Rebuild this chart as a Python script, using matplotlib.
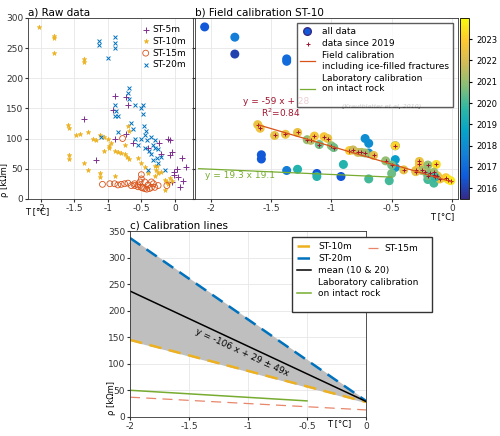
import numpy as np
import matplotlib.pyplot as plt
from matplotlib.colors import LinearSegmentedColormap

# ---- a) raw data ----
st5_T = [-1.35, -0.9, -0.73, -0.92, -0.7, -0.9, -0.73, -1.17, -0.63, -0.23, -0.1, -0.07, -0.04, -0.08, 0.1,
         -0.2, 0.03, 0.17, -0.02, -0.02, 0.05, 0.12, 0.07, -0.05, -0.4]
st5_R = [133, 170, 168, 147, 155, 100, 107, 65, 92, 93, 99, 98, 78, 72, 68,
         75, 50, 53, 45, 40, 37, 30, 20, 28, 85]
st10_T = [-2.02, -1.8, -1.8, -1.8, -1.35, -1.35, -1.6, -1.58, -1.58, -1.58, -1.47, -1.42, -1.3, -1.22, -1.17,
          -1.12, -1.05, -1.0, -0.98, -0.98, -1.05, -0.95, -1.35, -1.3, -1.12, -1.12, -0.9, -0.9, -0.85, -0.8,
          -0.75, -0.72, -0.68, -0.75, -0.7, -0.68, -0.55, -0.5, -0.45, -0.3, -0.27, -0.28, -0.25, -0.2, -0.15,
          -0.12, -0.1, -0.07, -0.05, -0.15, -0.4, -0.3]
st10_R = [285, 270, 267, 241, 231, 227, 123, 117, 73, 66, 105, 107, 110, 100, 97,
          105, 103, 100, 88, 85, 80, 92, 60, 47, 42, 36, 38, 80, 77, 76,
          74, 70, 66, 90, 120, 113, 68, 60, 53, 55, 55, 47, 42, 45, 32,
          28, 25, 35, 30, 15, 42, 38]
st15_T = [-1.08, -0.97, -0.9, -0.85, -0.8, -0.75, -0.7, -0.65, -0.6, -0.55, -0.5, -0.48, -0.45, -0.42, -0.38,
          -0.35, -0.3, -0.25, -0.5, -0.5, -0.52, -0.78, -0.6, -0.4, -0.45, -0.35, -0.32, -0.12, -0.55]
st15_R = [24, 25, 25, 23, 24, 25, 26, 22, 22, 20, 19, 18, 17, 16, 17,
          19, 19, 22, 40, 33, 28, 100, 25, 23, 28, 28, 25, 22, 23]
st20_T = [-1.13, -1.13, -0.9, -0.9, -0.9, -1.0, -0.68, -0.7, -0.68, -0.6, -0.9, -0.88, -0.9, -0.85, -0.65,
          -0.62, -0.5, -0.48, -0.47, -0.46, -0.43, -0.45, -0.5, -0.42, -0.35, -0.3, -0.33, -0.3, -0.25, -0.38,
          -0.32, -0.35, -0.27, -0.2, -0.25, -0.6, -0.55, -0.45, -0.85, -1.1, -0.4, -0.15]
st20_R = [262, 255, 268, 259, 250, 233, 184, 175, 165, 155, 155, 145, 137, 137, 125,
          115, 150, 155, 140, 120, 112, 105, 100, 98, 103, 98, 90, 85, 82, 80,
          65, 75, 68, 70, 60, 100, 90, 85, 110, 103, 47, 48]

# ---- b) field calibration ST-10 ----
old_T = [-2.05, -1.8, -1.8, -1.37, -1.37, -1.58, -1.58, -1.37, -1.12, -0.92, -0.72, -0.69, -0.69, -0.47, -0.47, -0.47,
         -1.28, -1.12, -0.69, -0.52, -0.9, -0.2, -0.15, -0.5]
old_R = [285, 268, 240, 232, 228, 73, 66, 47, 42, 37, 100, 92, 76, 88, 52, 65,
         49, 37, 33, 30, 57, 32, 26, 42]
old_Y = [2016.5, 2017.5, 2016, 2017, 2017, 2016.5, 2016.5, 2017.5, 2016.5, 2016.5, 2018, 2018, 2018, 2018, 2018.2, 2018.5,
         2019.5, 2019.5, 2020, 2020, 2019.5, 2020, 2020, 2020.5]
new_T = [-1.61, -1.59, -1.47, -1.38, -1.28, -1.2, -1.17, -1.14, -1.1, -1.06, -1.03, -1.0, -0.98, -0.85, -0.82,
         -0.78, -0.75, -0.72, -0.65, -0.55, -0.5, -0.47, -0.4, -0.3, -0.27, -0.27, -0.25, -0.22, -0.2, -0.18,
         -0.15, -0.13, -0.12, -0.1, -0.05, -0.03, -0.01, -0.3, -0.15, -0.2, -0.14]
new_R = [123, 117, 105, 107, 110, 98, 97, 104, 90, 103, 100, 88, 85, 80, 81,
         77, 77, 76, 72, 63, 56, 88, 48, 47, 62, 57, 47, 45, 56, 42,
         40, 57, 38, 33, 35, 32, 30, 45, 44, 38, 36]
new_Y = [2022.5, 2022.6, 2022.4, 2022.5, 2022.5, 2021, 2021.5, 2022.7, 2020.5, 2022.8, 2022.5, 2021, 2020.5, 2023, 2021.8,
         2022, 2021.5, 2021.2, 2022.3, 2021, 2020.5, 2023.2, 2022.4, 2022.6, 2022.5, 2022.7, 2021.3, 2021.5, 2021, 2020.8,
         2023.3, 2023.4, 2022.6, 2022.5, 2022.9, 2023.5, 2023.6, 2022.4, 2021.2, 2020.5, 2019.8]

# ---- c) calibration lines (values at T=-2 and T=0) ----
c_T = [-2, 0]
c_st10 = [145, 28]
c_st20 = [337, 30]
c_st15 = [37, 13]
c_mean = [237, 29]
lab_T = [-2, -0.5]
lab_R = [50, 30]

parula = LinearSegmentedColormap.from_list('parula', [
    '#352a87', '#0f5cdd', '#1481d6', '#06a4ca', '#2eb7a4', '#87bf77', '#d1bb59', '#fec832', '#f9fb0e'])

ORANGE = '#edb120'
BLUE = '#0072bd'
RED = '#d95319'
PURPLE = '#7e2f8e'
GREEN = '#77ac30'
FS = 6.5
plt.rcParams['font.size'] = FS
plt.rcParams['font.family'] = 'DejaVu Sans'

fig = plt.figure(figsize=(5, 4.36), dpi=100)
TICKS = [-2, -1.5, -1, -0.5, 0]
TICKLAB = ['-2', '-1.5', '-1', '-0.5', '0']


def style(ax):
    ax.grid(True, color='#e6e6e6', lw=0.6)
    ax.set_axisbelow(True)
    ax.tick_params(length=2, labelsize=FS, colors='#333333', pad=1.5)
    for s in ax.spines.values():
        s.set_color('#333333')
        s.set_linewidth(0.6)


# a
axa = fig.add_axes([0.056, 0.544, 0.33, 0.415])
style(axa)
axa.scatter(st5_T, st5_R, marker='+', s=16, color=PURPLE, lw=0.7, label='ST-5m')
axa.scatter(st10_T, st10_R, marker='*', s=12, color=ORANGE, lw=0.4, label='ST-10m')
axa.scatter(st15_T, st15_R, marker='o', s=18, facecolors='none', edgecolors=RED, lw=0.6, label='ST-15m')
axa.scatter(st20_T, st20_R, marker='x', s=8, color=BLUE, lw=0.7, label='ST-20m')
axa.set_xlim(-2.19, 0.27)
axa.set_ylim(0, 300)
axa.set_xticks(TICKS)
axa.set_xticklabels(TICKLAB)
axa.legend(loc='upper right', frameon=False, handletextpad=0.1, borderaxespad=0.4,
           fontsize=FS, labelspacing=0.3, handlelength=1.2)
axa.set_title('a) Raw data', loc='left', fontsize=7.5, pad=2)
fig.text(0.0, 0.548, 'ρ [kΩm]', rotation=90, ha='left', va='bottom', fontsize=6)
fig.text(0.05, 0.508, 'T [°C]', ha='left', fontsize=6)

# b
axb = fig.add_axes([0.39, 0.544, 0.526, 0.415])
style(axb)
vmin, vmax = 2015.5, 2024
axb.scatter(old_T, old_R, c=old_Y, cmap=parula, vmin=vmin, vmax=vmax, s=30, label='all data')
sc = axb.scatter(new_T, new_R, c=new_Y, cmap=parula, vmin=vmin, vmax=vmax, s=30)
axb.scatter(new_T, new_R, marker='+', color='#a2142f', s=10, lw=0.7, label='data since 2019')
xf = np.array([-1.6, 0])
axb.plot(xf, -59 * xf + 28, color=RED, lw=0.9, label='Field calibration\nincluding ice-filled fractures')
axb.plot([-2.1, -0.5], [50, 36], color=GREEN, lw=0.9,
         label='Laboratory calibration\non intact rock\n')
axb.set_xlim(-2.13, 0.05)
axb.set_ylim(0, 300)
axb.set_xticks(TICKS)
axb.set_xticklabels(TICKLAB)
axb.set_yticklabels([])
leg = axb.legend(loc='upper right', fontsize=FS, fancybox=False, edgecolor='#333333',
                 borderaxespad=0.6, handlelength=1.6, labelspacing=0.35)
leg.legend_handles[0].set_color('#352a87')
axb.text(0.71, 0.50, '(Krautblatter et al, 2010)', transform=axb.transAxes, style='italic',
         fontsize=4.5, ha='center')
axb.text(-1.73, 158, 'y = -59 x + 28', color='#a2142f', fontsize=6.5)
axb.text(-1.58, 136, 'R$^2$=0.84', color='#a2142f', fontsize=6.5)
axb.text(-2.05, 35, 'y = 19.3 x 19.1', color=GREEN, fontsize=6.5)
axb.set_title('b) Field calibration ST-10', loc='left', fontsize=7.5, pad=2)
axb.text(0.985, -0.115, 'T [°C]', transform=axb.transAxes, ha='right', fontsize=6)
cax = fig.add_axes([0.92, 0.544, 0.018, 0.415])
cb = fig.colorbar(sc, cax=cax, ticks=range(2016, 2024))
cb.ax.tick_params(labelsize=6, length=2)
cb.outline.set_linewidth(0.6)

# c
axc = fig.add_axes([0.26, 0.044, 0.472, 0.426])
style(axc)
axc.fill_between(c_T, c_st10, c_st20, color='#bfbfbf')
h10, = axc.plot(c_T, c_st10, color=ORANGE, ls=(0, (5, 3)), lw=1.8)
h20, = axc.plot(c_T, c_st20, color=BLUE, ls=(0, (5, 3)), lw=1.8)
hm, = axc.plot(c_T, c_mean, color='black', lw=1.1)
hl, = axc.plot(lab_T, lab_R, color=GREEN, lw=1.1)
h15, = axc.plot(c_T, c_st15, color='#e8866a', ls=(0, (8, 5)), lw=0.9)
axc.set_xlim(-2, 0)
axc.set_ylim(0, 350)
axc.set_xticks(TICKS)
axc.set_xticklabels(TICKLAB)
lc = fig.legend([h10, h20, hm, hl], ['ST-10m', 'ST-20m', 'mean (10 & 20)',
                                     'Laboratory calibration\non intact rock\n'],
                loc='upper left', bbox_to_anchor=(0.584, 0.282, 0.28, 0.174), mode='expand',
                fontsize=FS, fancybox=False, edgecolor='#333333', handlelength=1.6,
                labelspacing=0.35, borderpad=0.5, borderaxespad=0, framealpha=1)
fig.legend([h15], ['ST-15m'], loc='upper left', bbox_to_anchor=(0.728, 0.448), frameon=False,
           fontsize=FS, handlelength=1.6, handletextpad=0.3, borderaxespad=0)
fig.text(0.72, 0.292, '(Krautblatter et al, 2010)', style='italic', fontsize=4.5, ha='center')
axc.text(-1.05, 122, 'y = -106 x + 29 ± 49x', rotation=-25, ha='center', va='center', fontsize=6.5)
axc.set_title('c) Calibration lines', loc='left', fontsize=7.5, pad=2)
fig.text(0.214, 0.048, 'ρ [kΩm]', rotation=90, ha='left', va='bottom', fontsize=6)
fig.text(0.655, 0.022, 'T [°C]', ha='left', fontsize=6)

fig.savefig('out.png', dpi=100)
